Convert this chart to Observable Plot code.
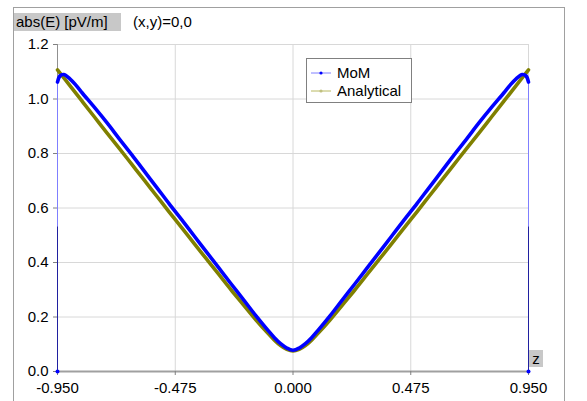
<!DOCTYPE html>
<html>
<head>
<meta charset="utf-8">
<script src="https://cdn.jsdelivr.net/npm/d3@7"></script>
<script src="https://cdn.jsdelivr.net/npm/@observablehq/plot@0.6"></script>
<style>
  body { margin: 0; background: #fff; font-family: "Liberation Sans", Arial, sans-serif; }
  #wrap { position: relative; width: 587px; height: 401px; overflow: hidden; }
  #frame { position: absolute; left: 13px; top: 7px; width: 552px; height: 420px; border: 1px solid #a0a0a0; box-sizing: border-box; }
  .tag { position: absolute; background: #c8c8c8; font-size: 15px; line-height: 18px; color: #000; }
  .txt { position: absolute; font-size: 15px; line-height: 18px; color: #000; }
  #legend { position: absolute; left: 306px; top: 58px; width: 106px; height: 45px; border: 1px solid #808080; background: #fff; box-sizing: border-box; }
  #legend svg { position: absolute; left: 0; top: 0; }
  svg text { font-family: "Liberation Sans", Arial, sans-serif; }
</style>
</head>
<body>
<div id="wrap">
  <div id="frame"></div>
  <div id="chart"></div>
  <div class="tag" style="left:14px; top:13px; width:107px; height:18px; padding-left:2px; box-sizing:border-box;">abs(E) [pV/m]</div>
  <div class="txt" style="left:133px; top:13px;">(x,y)=0,0</div>
  <div class="tag" style="left:529px; top:350px; width:14px; height:17px; text-align:center;">z</div>
  <div id="legend"></div>
</div>
<script>
// ---- data ----
const zAnalytical = [-0.95,-0.9,-0.85,-0.8,-0.75,-0.7,-0.65,-0.6,-0.55,-0.5,-0.45,-0.4,-0.35,-0.3,-0.25,-0.2,-0.15,-0.1,-0.075,-0.05,-0.025,0,
  0.025,0.05,0.075,0.1,0.15,0.2,0.25,0.3,0.35,0.4,0.45,0.5,0.55,0.6,0.65,0.7,0.75,0.8,0.85,0.9,0.95];
const eAnalytical = [1.107,1.049,0.991,0.933,0.875,0.818,0.760,0.702,0.644,0.586,0.529,0.471,0.414,0.357,0.300,0.245,0.190,0.139,0.115,0.095,0.081,0.075,
  0.081,0.095,0.115,0.139,0.190,0.245,0.300,0.357,0.414,0.471,0.529,0.586,0.644,0.702,0.760,0.818,0.875,0.933,0.991,1.049,1.107];
const zMoM = [-0.95,-0.94,-0.925,-0.9,-0.875,-0.85,-0.8,-0.75,-0.7,-0.65,-0.6,-0.55,-0.5,-0.45,-0.4,-0.35,-0.3,-0.25,-0.2,-0.15,-0.1,-0.075,-0.05,-0.025,0,
  0.025,0.05,0.075,0.1,0.15,0.2,0.25,0.3,0.35,0.4,0.45,0.5,0.55,0.6,0.65,0.7,0.75,0.8,0.85,0.875,0.9,0.925,0.94,0.95];
const eMoM = [1.062,1.085,1.090,1.074,1.050,1.022,0.968,0.912,0.853,0.795,0.735,0.676,0.616,0.558,0.499,0.440,0.381,0.322,0.264,0.205,0.150,0.124,0.102,0.086,0.078,
  0.086,0.102,0.124,0.150,0.205,0.264,0.322,0.381,0.440,0.499,0.558,0.616,0.676,0.735,0.795,0.853,0.912,0.968,1.022,1.050,1.074,1.090,1.085,1.062];
const momEdgeZ = [-0.95, 0.95];      // MoM end points that drop to zero
const momEdgeLow = [0.53, 0.53];     // darker lower part of the edge drop
const xTicks = [-0.95, -0.475, 0, 0.475, 0.95];
const yTicks = [0, 0.2, 0.4, 0.6, 0.8, 1.0, 1.2];
const seriesNames = ["MoM", "Analytical"];
const seriesColors = ["#0000ff", "#808000"];

const analytical = zAnalytical.map((z, i) => ({z, e: eAnalytical[i]}));
const mom = zMoM.map((z, i) => ({z, e: eMoM[i]}));
const edges = momEdgeZ.map((z, i) => ({z, top: eMoM[i === 0 ? 0 : eMoM.length - 1], low: momEdgeLow[i]}));

const fmtX = d => (d < -1e-9 ? "-" : "") + Math.abs(d).toFixed(3);
const fmtY = d => d.toFixed(1);

const chart = Plot.plot({
  width: 587,
  height: 401,
  marginLeft: 57,
  marginRight: 59,
  marginTop: 44,
  marginBottom: 30,
  style: {fontSize: "15px", fontFamily: "Liberation Sans, Arial, sans-serif", color: "#000", background: "transparent", overflow: "visible"},
  x: {domain: [-0.95, 0.95], ticks: xTicks, tickFormat: fmtX, label: null},
  y: {domain: [0, 1.2], ticks: yTicks, tickFormat: fmtY, label: null},
  marks: [
    Plot.gridX(xTicks, {stroke: "#d8d8d8", strokeOpacity: 1}),
    Plot.gridY(yTicks, {stroke: "#d8d8d8", strokeOpacity: 1}),
    Plot.ruleX([-0.95], {stroke: "#909090"}),
    Plot.ruleY([0], {stroke: "#a0a0a0", strokeWidth: 2}),
    Plot.axisX(xTicks, {tickFormat: fmtX, tickSize: 4, tickPadding: 7, stroke: "#808080", fill: "#000", fontSize: 15, label: null}),
    Plot.axisY(yTicks, {tickFormat: fmtY, tickSize: 4, tickPadding: 5, stroke: "#808080", fill: "#000", fontSize: 15, label: null}),
    Plot.ruleX(edges, {x: "z", y1: 0, y2: "top", stroke: "#7f7fff", strokeWidth: 1}),
    Plot.ruleX(edges, {x: "z", y1: 0, y2: "low", stroke: "#2020a0", strokeWidth: 1}),
    Plot.line(analytical, {x: "z", y: "e", stroke: seriesColors[1], strokeWidth: 3.6, curve: "catmull-rom"}),
    Plot.line(mom, {x: "z", y: "e", stroke: seriesColors[0], strokeWidth: 3.6, curve: "catmull-rom"}),
    Plot.dot(edges, {x: "z", y: 0, r: 2, fill: "#0000ff", stroke: "none"})
  ]
});
document.getElementById("chart").appendChild(chart);

// legend
const leg = d3.select("#legend").append("svg").attr("width", 104).attr("height", 43);
const rows = [
  {name: seriesNames[0], line: "#8080ff", dot: "#0000ff", y: 14},
  {name: seriesNames[1], line: "#b8b860", dot: "#c0c080", y: 32}
];
rows.forEach(r => {
  leg.append("line").attr("x1", 4).attr("x2", 24).attr("y1", r.y).attr("y2", r.y).attr("stroke", r.line).attr("stroke-width", 1);
  leg.append("circle").attr("cx", 14).attr("cy", r.y).attr("r", 1.6).attr("fill", r.dot);
  leg.append("text").attr("x", 30).attr("y", r.y + 5).attr("font-size", 15).attr("fill", "#000").text(r.name);
});
</script>
</body>
</html>
